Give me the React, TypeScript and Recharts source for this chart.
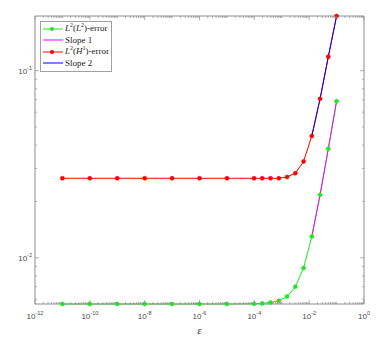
import { LineChart, Line, XAxis, YAxis, Legend } from "recharts";

// epsilon values along the x axis
const eps = [1e-11, 1e-10, 1e-9, 1e-8, 1e-7, 1e-6, 1e-5, 9.77e-5, 1.95e-4, 3.91e-4, 7.81e-4, 1.56e-3, 3.13e-3, 6.25e-3, 0.0125, 0.025, 0.05, 0.1];
const l2Error = [0.00566, 0.00566, 0.00566, 0.00566, 0.00566, 0.00566, 0.00566, 0.00567, 0.0057, 0.00577, 0.00589, 0.00621, 0.007, 0.00881, 0.01299, 0.0217, 0.0383, 0.0687];
const h1Error = [0.0266, 0.0266, 0.0266, 0.0266, 0.0266, 0.0266, 0.0266, 0.0266, 0.0266, 0.0266, 0.0266, 0.027, 0.0283, 0.0327, 0.0448, 0.0707, 0.1188, 0.196];

const slopeEps = [0.0125, 0.025, 0.05, 0.1];
const slope1 = [0.01299, 0.0217, 0.0383, 0.0687];
const slope2 = [0.0448, 0.0707, 0.1188, 0.196];

const xDecades = [-12, -11, -10, -9, -8, -7, -6, -5, -4, -3, -2, -1, 0];
const xLabelled = [-12, -10, -8, -6, -4, -2, 0];
const minorSteps = [2, 3, 4, 5, 6, 7, 8, 9];
const yTicks = [0.006, 0.007, 0.008, 0.009, 0.01, 0.02, 0.03, 0.04, 0.05, 0.06, 0.07, 0.08, 0.09, 0.1];
const yLabelled = [-2, -1];

const X_DOMAIN = [1e-12, 1];
const Y_DOMAIN = [0.00566, 0.196];

const xTicks: number[] = [];
xDecades.forEach((d) => {
  xTicks.push(Math.pow(10, d));
  if (d < 0) minorSteps.forEach((m) => xTicks.push(m * Math.pow(10, d)));
});

const toRows = (xs: number[], ys: number[]) => xs.map((x, i) => ({ x, y: ys[i] }));
const l2Rows = toRows(eps, l2Error);
const h1Rows = toRows(eps, h1Error);
const s1Rows = toRows(slopeEps, slope1);
const s2Rows = toRows(slopeEps, slope2);

const AXIS = "#8c8c8c";
const LABEL = "#4a4a4a";
const GREEN = "#1ee81e";
const MAGENTA = "#ff00ff";
const RED = "#ff0000";
const BLUE = "#0000ff";

const decadeOf = (v: number) => {
  const e = Math.round(Math.log10(v));
  return Math.abs(v - Math.pow(10, e)) / v < 1e-6 ? e : null;
};

function Pow10({ x, y, e, anchor }: { x: number; y: number; e: number; anchor: string }) {
  return (
    <text x={x} y={y} textAnchor={anchor} fill={LABEL} fontSize={8} fontFamily="Liberation Sans, Arial, sans-serif">
      <tspan>10</tspan>
      <tspan dy={-4} fontSize={5.5}>{e}</tspan>
    </text>
  );
}

function XTick(props: any) {
  const { x, y, payload, top } = props;
  const e = decadeOf(payload.value);
  const major = e !== null && xLabelled.includes(e);
  const len = major ? 4 : 2;
  const dir = top ? 1 : -1;
  return (
    <g>
      <line x1={x} x2={x} y1={y} y2={y + dir * len} stroke={AXIS} strokeWidth={0.7} />
      {!top && major && <Pow10 x={x} y={y + 15} e={e as number} anchor="middle" />}
    </g>
  );
}

function YTick(props: any) {
  const { x, y, payload, right } = props;
  const e = decadeOf(payload.value);
  const major = e !== null && yLabelled.includes(e);
  const len = major ? 4 : 2;
  const dir = right ? -1 : 1;
  return (
    <g>
      <line x1={x} x2={x + dir * len} y1={y} y2={y} stroke={AXIS} strokeWidth={0.7} />
      {!right && major && <Pow10 x={x - 3} y={y + 3} e={e as number} anchor="end" />}
    </g>
  );
}

const legendItems = [
  { color: GREEN, marker: true, label: <><i>L</i><sup>2</sup>(<i>L</i><sup>2</sup>)-error</> },
  { color: MAGENTA, marker: false, label: <>Slope 1</> },
  { color: RED, marker: true, label: <><i>L</i><sup>2</sup>(<i>H</i><sup>1</sup>)-error</> },
  { color: BLUE, marker: false, label: <>Slope 2</> },
];

function LegendBox() {
  return (
    <div
      style={{
        border: "1px solid #a0a0a0",
        background: "#fff",
        width: 70,
        padding: "1px 0 2px 0",
        fontFamily: "Liberation Serif, Times New Roman, serif",
        fontSize: 9,
        color: "#222",
      }}
    >
      {legendItems.map((it, i) => (
        <div key={i} style={{ display: "flex", alignItems: "center", height: 11.5, lineHeight: "11px" }}>
          <svg width={24} height={8} style={{ flex: "none" }}>
            <line x1={2} x2={22} y1={4} y2={4} stroke={it.color} strokeWidth={1} />
            {it.marker && <circle cx={11} cy={4} r={2} fill={it.color} />}
          </svg>
          <span style={{ whiteSpace: "nowrap", fontSize: 9 }}>{it.label}</span>
        </div>
      ))}
    </div>
  );
}

export default function App() {
  return (
    <div style={{ position: "absolute", left: 0, top: 0, width: 383, height: 343, background: "#fff" }}>
      <style>{`sup{font-size:6px;vertical-align:4px;line-height:0}`}</style>
      <LineChart width={383} height={343} margin={{ top: 15, right: 18, bottom: 0, left: 0 }}>
        <XAxis
          dataKey="x"
          type="number"
          scale="log"
          domain={X_DOMAIN}
          ticks={xTicks}
          interval={0}
          height={39}
          tickSize={0}
          tickMargin={0}
          tick={<XTick />}
          stroke={AXIS}
          allowDuplicatedCategory={false}
          label={{ value: "ε", position: "insideBottom", offset: 9, fill: "#333", fontSize: 11, fontStyle: "italic", fontFamily: "Liberation Serif, serif" }}
        />
        <XAxis
          xAxisId="top"
          orientation="top"
          dataKey="x"
          type="number"
          scale="log"
          domain={X_DOMAIN}
          allowDataOverflow
          ticks={xTicks}
          interval={0}
          height={1}
          tickSize={0}
          tickMargin={0}
          tick={<XTick top />}
          stroke={AXIS}
        />
        <YAxis
          type="number"
          scale="log"
          domain={Y_DOMAIN}
          ticks={yTicks}
          interval={0}
          width={35}
          tickSize={0}
          tickMargin={0}
          tick={<YTick />}
          stroke={AXIS}
        />
        <YAxis
          yAxisId="right"
          orientation="right"
          type="number"
          scale="log"
          domain={Y_DOMAIN}
          allowDataOverflow
          ticks={yTicks}
          interval={0}
          width={1}
          tickSize={0}
          tickMargin={0}
          tick={<YTick right />}
          stroke={AXIS}
        />
        <Legend
          layout="vertical"
          align="center"
          verticalAlign="middle"
          wrapperStyle={{ left: 40, top: 21, width: "auto" }}
          content={() => <LegendBox />}
        />
        {/* invisible series so the mirrored top/right axes get drawn */}
        <Line xAxisId="top" yAxisId="right" data={l2Rows} dataKey="y" stroke="none" dot={false} legendType="none" isAnimationActive={false} />
        <Line data={l2Rows} dataKey="y" name="L2(L2)-error" stroke={GREEN} strokeWidth={1} dot={{ r: 2, fill: GREEN, stroke: GREEN, strokeWidth: 0.6 }} isAnimationActive={false} />
        <Line data={s1Rows} dataKey="y" name="Slope 1" stroke={MAGENTA} strokeWidth={1} dot={false} isAnimationActive={false} />
        <Line data={h1Rows} dataKey="y" name="L2(H1)-error" stroke={RED} strokeWidth={1} dot={{ r: 2, fill: RED, stroke: RED, strokeWidth: 0.6 }} isAnimationActive={false} />
        <Line data={s2Rows} dataKey="y" name="Slope 2" stroke={BLUE} strokeWidth={1} dot={false} isAnimationActive={false} />
      </LineChart>
    </div>
  );
}
